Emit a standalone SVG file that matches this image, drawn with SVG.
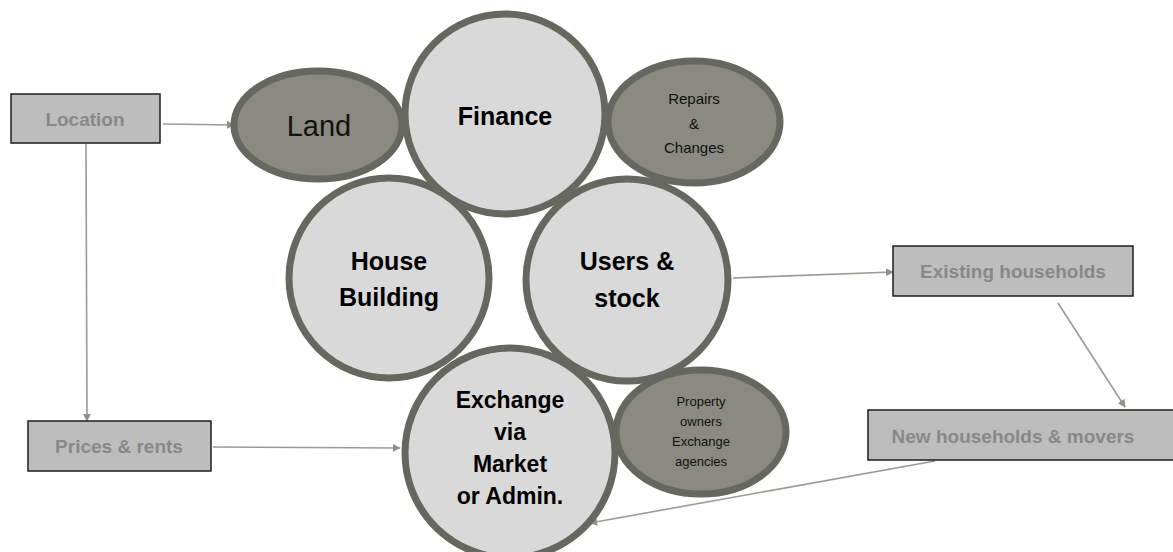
<svg xmlns="http://www.w3.org/2000/svg" width="1173" height="552" viewBox="0 0 1173 552">
<defs>
<marker id="arr" viewBox="0 0 10 10" refX="9" refY="5" markerWidth="8" markerHeight="8" markerUnits="userSpaceOnUse" orient="auto">
<path d="M0,0 L10,5 L0,10 z" fill="#8f9088"/>
</marker>
</defs>
<style>
.big{fill:#d9d9d9;stroke:#66675f;stroke-width:7}
.small{fill:#8a8a80;stroke:#66675f;stroke-width:7}
.box{fill:#bdbdbd;stroke:#1e1e1e;stroke-width:1.5}
.bt{font-family:"Liberation Sans",Arial,sans-serif;font-weight:bold;font-size:19px;fill:#888888;text-anchor:middle}
.ct{font-family:"Liberation Sans",Arial,sans-serif;font-weight:bold;font-size:25px;fill:#000;text-anchor:middle}
.ex{font-size:23px}
.st{font-family:"Liberation Sans",Arial,sans-serif;font-size:15px;fill:#111;text-anchor:middle}
.conn{stroke:#9a9b93;stroke-width:1.6;fill:none;marker-end:url(#arr)}
</style>
<rect width="1173" height="552" fill="#fff"/>
<g id="connectors">
<line class="conn" x1="163" y1="124" x2="234" y2="125"/>
<line class="conn" x1="86" y1="144" x2="87" y2="421"/>
<line class="conn" x1="213" y1="447" x2="400" y2="448"/>
<line class="conn" x1="733" y1="278" x2="893" y2="272"/>
<line class="conn" x1="1058" y1="303" x2="1125" y2="407"/>
<line class="conn" x1="935" y1="461" x2="590" y2="523"/>
</g>
<g id="land"><ellipse class="small" cx="318" cy="125" rx="84" ry="54"/><text x="319" y="136" style="font-family:'Liberation Sans',Arial,sans-serif;font-size:29px;fill:#111;text-anchor:middle">Land</text></g>
<g id="repairs"><ellipse class="small" cx="694" cy="122" rx="86" ry="61"/><text class="st" x="694" y="104">Repairs</text><text class="st" x="694" y="129">&amp;</text><text class="st" x="694" y="153">Changes</text></g>
<g id="property"><ellipse class="small" cx="701" cy="432" rx="85" ry="62"/><text class="st" style="font-size:13px" x="701" y="406">Property</text><text class="st" style="font-size:13px" x="701" y="426">owners</text><text class="st" style="font-size:13px" x="701" y="446">Exchange</text><text class="st" style="font-size:13px" x="701" y="466">agencies</text></g>
<g id="finance"><circle class="big" cx="505" cy="114" r="100"/><text class="ct" x="505" y="125">Finance</text></g>
<g id="house"><circle class="big" cx="389" cy="278" r="100"/><text class="ct" x="389" y="270">House</text><text class="ct" x="389" y="306">Building</text></g>
<g id="users"><circle class="big" cx="627" cy="280" r="101"/><text class="ct" x="627" y="270">Users &amp;</text><text class="ct" x="627" y="307">stock</text></g>
<g id="exchange"><circle class="big" cx="510" cy="453" r="105"/><text class="ct ex" x="510" y="408">Exchange</text><text class="ct ex" x="510" y="440">via</text><text class="ct ex" x="510" y="472">Market</text><text class="ct ex" x="510" y="504">or Admin.</text></g>
<g id="location"><rect class="box" x="11" y="94" width="149" height="49"/><text class="bt" x="85" y="126">Location</text></g>
<g id="prices"><rect class="box" x="28" y="421" width="183" height="50"/><text class="bt" x="119" y="453">Prices &amp; rents</text></g>
<g id="existing"><rect class="box" x="893" y="246" width="240" height="50"/><text class="bt" x="1013" y="278">Existing households</text></g>
<g id="newh"><rect class="box" x="868" y="410" width="306" height="50"/><text class="bt" x="1013" y="443">New households &amp; movers</text></g>
</svg>
